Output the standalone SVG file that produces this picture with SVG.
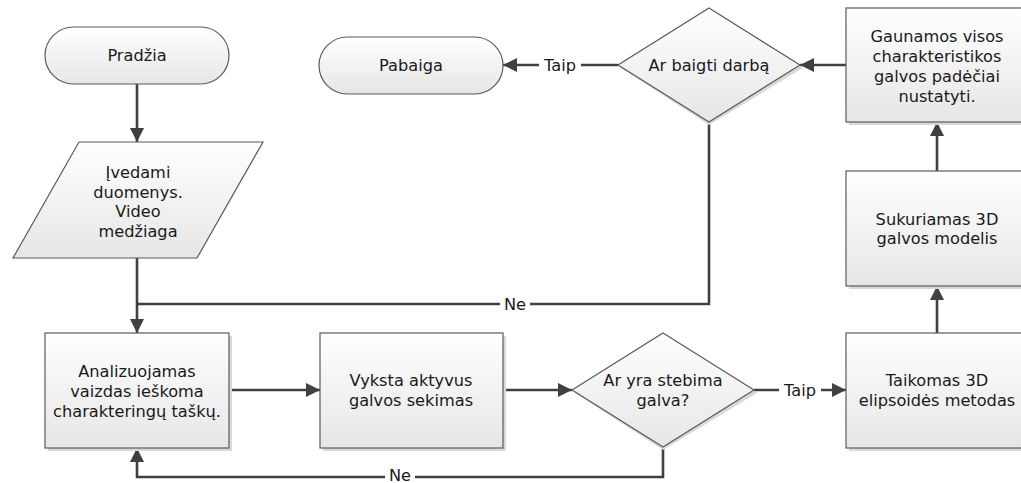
<svg xmlns="http://www.w3.org/2000/svg" width="1021" height="483" viewBox="0 0 1021 483">
  <defs>
    <linearGradient id="fillGrad" x1="0" y1="0" x2="0" y2="1">
      <stop offset="0" stop-color="#ffffff"/>
      <stop offset="1" stop-color="#e6e6e6"/>
    </linearGradient>
    <marker id="arrow" viewBox="0 0 10 10" refX="10" refY="5" markerWidth="5.5" markerHeight="5.5" markerUnits="strokeWidth" orient="auto">
      <path d="M0,0 L10,5 L0,10 Z" fill="#404040"/>
    </marker>
  </defs>
  <style>
    .shape { fill: url(#fillGrad); stroke: #5a5a5a; stroke-width: 1.2; }
    .shadow { fill: #d9d9d9; stroke: none; }
    .txt { font-family: "DejaVu Sans", "Open Sans", sans-serif; font-size: 16.2px; fill: #1a1a1a; text-anchor: middle; dominant-baseline: central; }
    .conn { fill: none; stroke: #404040; stroke-width: 2.6; }
    .lbl { font-family: "DejaVu Sans", "Open Sans", sans-serif; font-size: 16.2px; fill: #1a1a1a; text-anchor: middle; dominant-baseline: central; }
    .lblbg { fill: #ffffff; }
  </style>
  <rect width="1021" height="483" fill="#ffffff"/>

  <!-- connectors -->
  <g id="connectors">
    <path class="conn" d="M137,84 V142" marker-end="url(#arrow)"/>
    <path class="conn" d="M137,258 V333" marker-end="url(#arrow)"/>
    <path class="conn" d="M709,122 V304 H137"/>
    <path class="conn" d="M229,390 H320" marker-end="url(#arrow)"/>
    <path class="conn" d="M503,390 H572" marker-end="url(#arrow)"/>
    <path class="conn" d="M754,390 H846" marker-end="url(#arrow)"/>
    <path class="conn" d="M663,447 V477 H137 V448" marker-end="url(#arrow)"/>
    <path class="conn" d="M937,333 V286" marker-end="url(#arrow)"/>
    <path class="conn" d="M937,171 V122" marker-end="url(#arrow)"/>
    <path class="conn" d="M846,65 H800" marker-end="url(#arrow)"/>
    <path class="conn" d="M618,65 H503" marker-end="url(#arrow)"/>
    <!-- edge labels -->
    <rect class="lblbg" x="539" y="56" width="42" height="18"/>
    <text class="lbl" x="560" y="65">Taip</text>
    <rect class="lblbg" x="779" y="381" width="42" height="18"/>
    <text class="lbl" x="800" y="390">Taip</text>
    <rect class="lblbg" x="500" y="295" width="30" height="18"/>
    <text class="lbl" x="515" y="304">Ne</text>
    <rect class="lblbg" x="385" y="468" width="30" height="15"/>
    <text class="lbl" x="400" y="475">Ne</text>
  </g>

  <g id="node-pradzia">
    <rect class="shape" x="45" y="27" width="184" height="57" rx="28.5"/>
    <text class="txt" x="137" y="55">Pradžia</text>
  </g>

  <g id="node-ivedami">
    <polygon class="shape" points="79,142 263,142 197,258 13,258"/>
    <text class="txt" x="138" y="172">Įvedami</text>
    <text class="txt" x="138" y="192">duomenys.</text>
    <text class="txt" x="138" y="211">Video</text>
    <text class="txt" x="138" y="231">medžiaga</text>
  </g>

  <g id="node-analizuojamas">
    <rect class="shadow" x="48" y="336" width="184" height="115"/>
    <rect class="shape" x="45" y="333" width="184" height="115"/>
    <text class="txt" x="137" y="371">Analizuojamas</text>
    <text class="txt" x="137" y="391">vaizdas ieškoma</text>
    <text class="txt" x="137" y="411">charakteringų taškų.</text>
  </g>

  <g id="node-vyksta">
    <rect class="shadow" x="323" y="336" width="183" height="115"/>
    <rect class="shape" x="320" y="333" width="183" height="115"/>
    <text class="txt" x="411" y="380">Vyksta aktyvus</text>
    <text class="txt" x="411" y="400">galvos sekimas</text>
  </g>

  <g id="node-ar-yra">
    <polygon class="shadow" points="663,336 757,393 663,450 575,393"/>
    <polygon class="shape" points="663,333 754,390 663,447 572,390"/>
    <text class="txt" x="663" y="380">Ar yra stebima</text>
    <text class="txt" x="663" y="400">galva?</text>
  </g>

  <g id="node-taikomas">
    <rect class="shadow" x="849" y="336" width="184" height="115"/>
    <rect class="shape" x="846" y="333" width="184" height="115"/>
    <text class="txt" x="937" y="380">Taikomas 3D</text>
    <text class="txt" x="937" y="400">elipsoidės metodas</text>
  </g>

  <g id="node-sukuriamas">
    <rect class="shadow" x="849" y="174" width="184" height="115"/>
    <rect class="shape" x="846" y="171" width="184" height="115"/>
    <text class="txt" x="937" y="219">Sukuriamas 3D</text>
    <text class="txt" x="937" y="238">galvos modelis</text>
  </g>

  <g id="node-gaunamos">
    <rect class="shadow" x="849" y="11" width="184" height="114"/>
    <rect class="shape" x="846" y="8" width="184" height="114"/>
    <text class="txt" x="937" y="36">Gaunamos visos</text>
    <text class="txt" x="937" y="56">charakteristikos</text>
    <text class="txt" x="937" y="76">galvos padėčiai</text>
    <text class="txt" x="937" y="96">nustatyti.</text>
  </g>

  <g id="node-ar-baigti">
    <polygon class="shadow" points="709,11 803,68 709,125 621,68"/>
    <polygon class="shape" points="709,8 800,65 709,122 618,65"/>
    <text class="txt" x="709" y="65">Ar baigti darbą</text>
  </g>

  <g id="node-pabaiga">
    <rect class="shape" x="319" y="37" width="184" height="57" rx="28.5"/>
    <text class="txt" x="411" y="65">Pabaiga</text>
  </g>
</svg>
